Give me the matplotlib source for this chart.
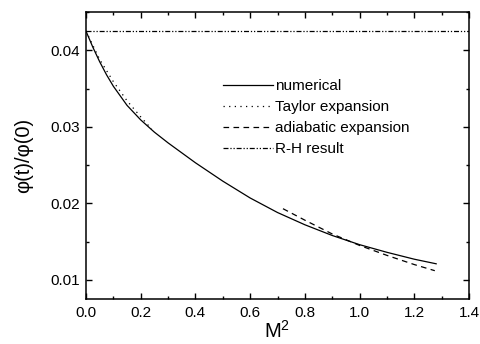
import matplotlib
matplotlib.use("Agg")
import matplotlib.pyplot as plt
from matplotlib.ticker import MultipleLocator, FormatStrFormatter

plt.rcParams['font.family'] = ['Liberation Sans', 'DejaVu Sans']
plt.rcParams['mathtext.fontset'] = 'custom'
plt.rcParams['mathtext.rm'] = 'Liberation Sans'
plt.rcParams['mathtext.it'] = 'Liberation Sans'

# numerical solution
num_x = [0.0, 0.025, 0.05, 0.075, 0.1, 0.15, 0.2, 0.25, 0.3, 0.4, 0.5, 0.6,
         0.7, 0.8, 0.9, 1.0, 1.1, 1.2, 1.28]
num_y = [0.0425, 0.0404, 0.0385, 0.0368, 0.0353, 0.0328, 0.0309, 0.0293, 0.0279,
         0.0253, 0.0229, 0.0207, 0.0188, 0.0172, 0.0158, 0.0146, 0.0136, 0.0127, 0.0121]

# Taylor expansion
tay_x = [0.0, 0.05, 0.1, 0.15, 0.2, 0.24]
tay_y = [0.0425, 0.0388, 0.0359, 0.0334, 0.0313, 0.0297]

# adiabatic expansion
adi_x = [0.72, 0.8, 0.9, 1.0, 1.1, 1.2, 1.275]
adi_y = [0.0193, 0.0178, 0.0160, 0.0145, 0.0132, 0.0120, 0.0112]

# R-H result
rh_x = [0.0, 1.4]
rh_y = [0.0425, 0.0425]

fig = plt.figure(figsize=(4.8, 3.44), dpi=100)
ax = fig.add_axes([86/480, 1-299/344, (469-86)/480, (299-12)/344])

ax.plot(num_x, num_y, color='black', lw=0.9, label='numerical')
ax.plot(tay_x, tay_y, color='black', lw=0.9, linestyle=(0, (1, 3.5)), label='Taylor expansion')
ax.plot(adi_x, adi_y, color='black', lw=0.9, linestyle=(0, (4.5, 3.5)), label='adiabatic expansion')
ax.plot(rh_x, rh_y, color='black', lw=0.9, linestyle=(0, (4, 1.5, 1, 1.5, 1, 1.5)), label='R-H result')

ax.set_xlim(0.0, 1.4)
ax.set_ylim(0.0075, 0.045)
ax.xaxis.set_major_locator(MultipleLocator(0.2))
ax.xaxis.set_minor_locator(MultipleLocator(0.1))
ax.yaxis.set_major_locator(MultipleLocator(0.01))
ax.yaxis.set_minor_locator(MultipleLocator(0.005))
ax.xaxis.set_major_formatter(FormatStrFormatter('%.1f'))
ax.yaxis.set_major_formatter(FormatStrFormatter('%.2f'))

ax.tick_params(which='both', direction='in', top=True, right=True, width=1.0)
ax.tick_params(which='major', length=4.5, labelsize=11)
ax.tick_params(axis='x', which='major', pad=5)
ax.tick_params(axis='y', which='major', pad=4)
ax.tick_params(which='minor', length=2.5)
for s in ax.spines.values():
    s.set_linewidth(1.1)

ax.set_xlabel('M$^2$', fontsize=14.5, labelpad=0)
ax.set_ylabel('φ(t)/φ(0)', fontsize=14.5, labelpad=13)

leg = ax.legend(loc='upper left', bbox_to_anchor=((223-86)/383, (299-79)/287),
                frameon=False, fontsize=11, handlelength=3.3, handletextpad=0.1,
                labelspacing=0.46, borderpad=0, borderaxespad=0)

fig.savefig('out.png', dpi=100)
